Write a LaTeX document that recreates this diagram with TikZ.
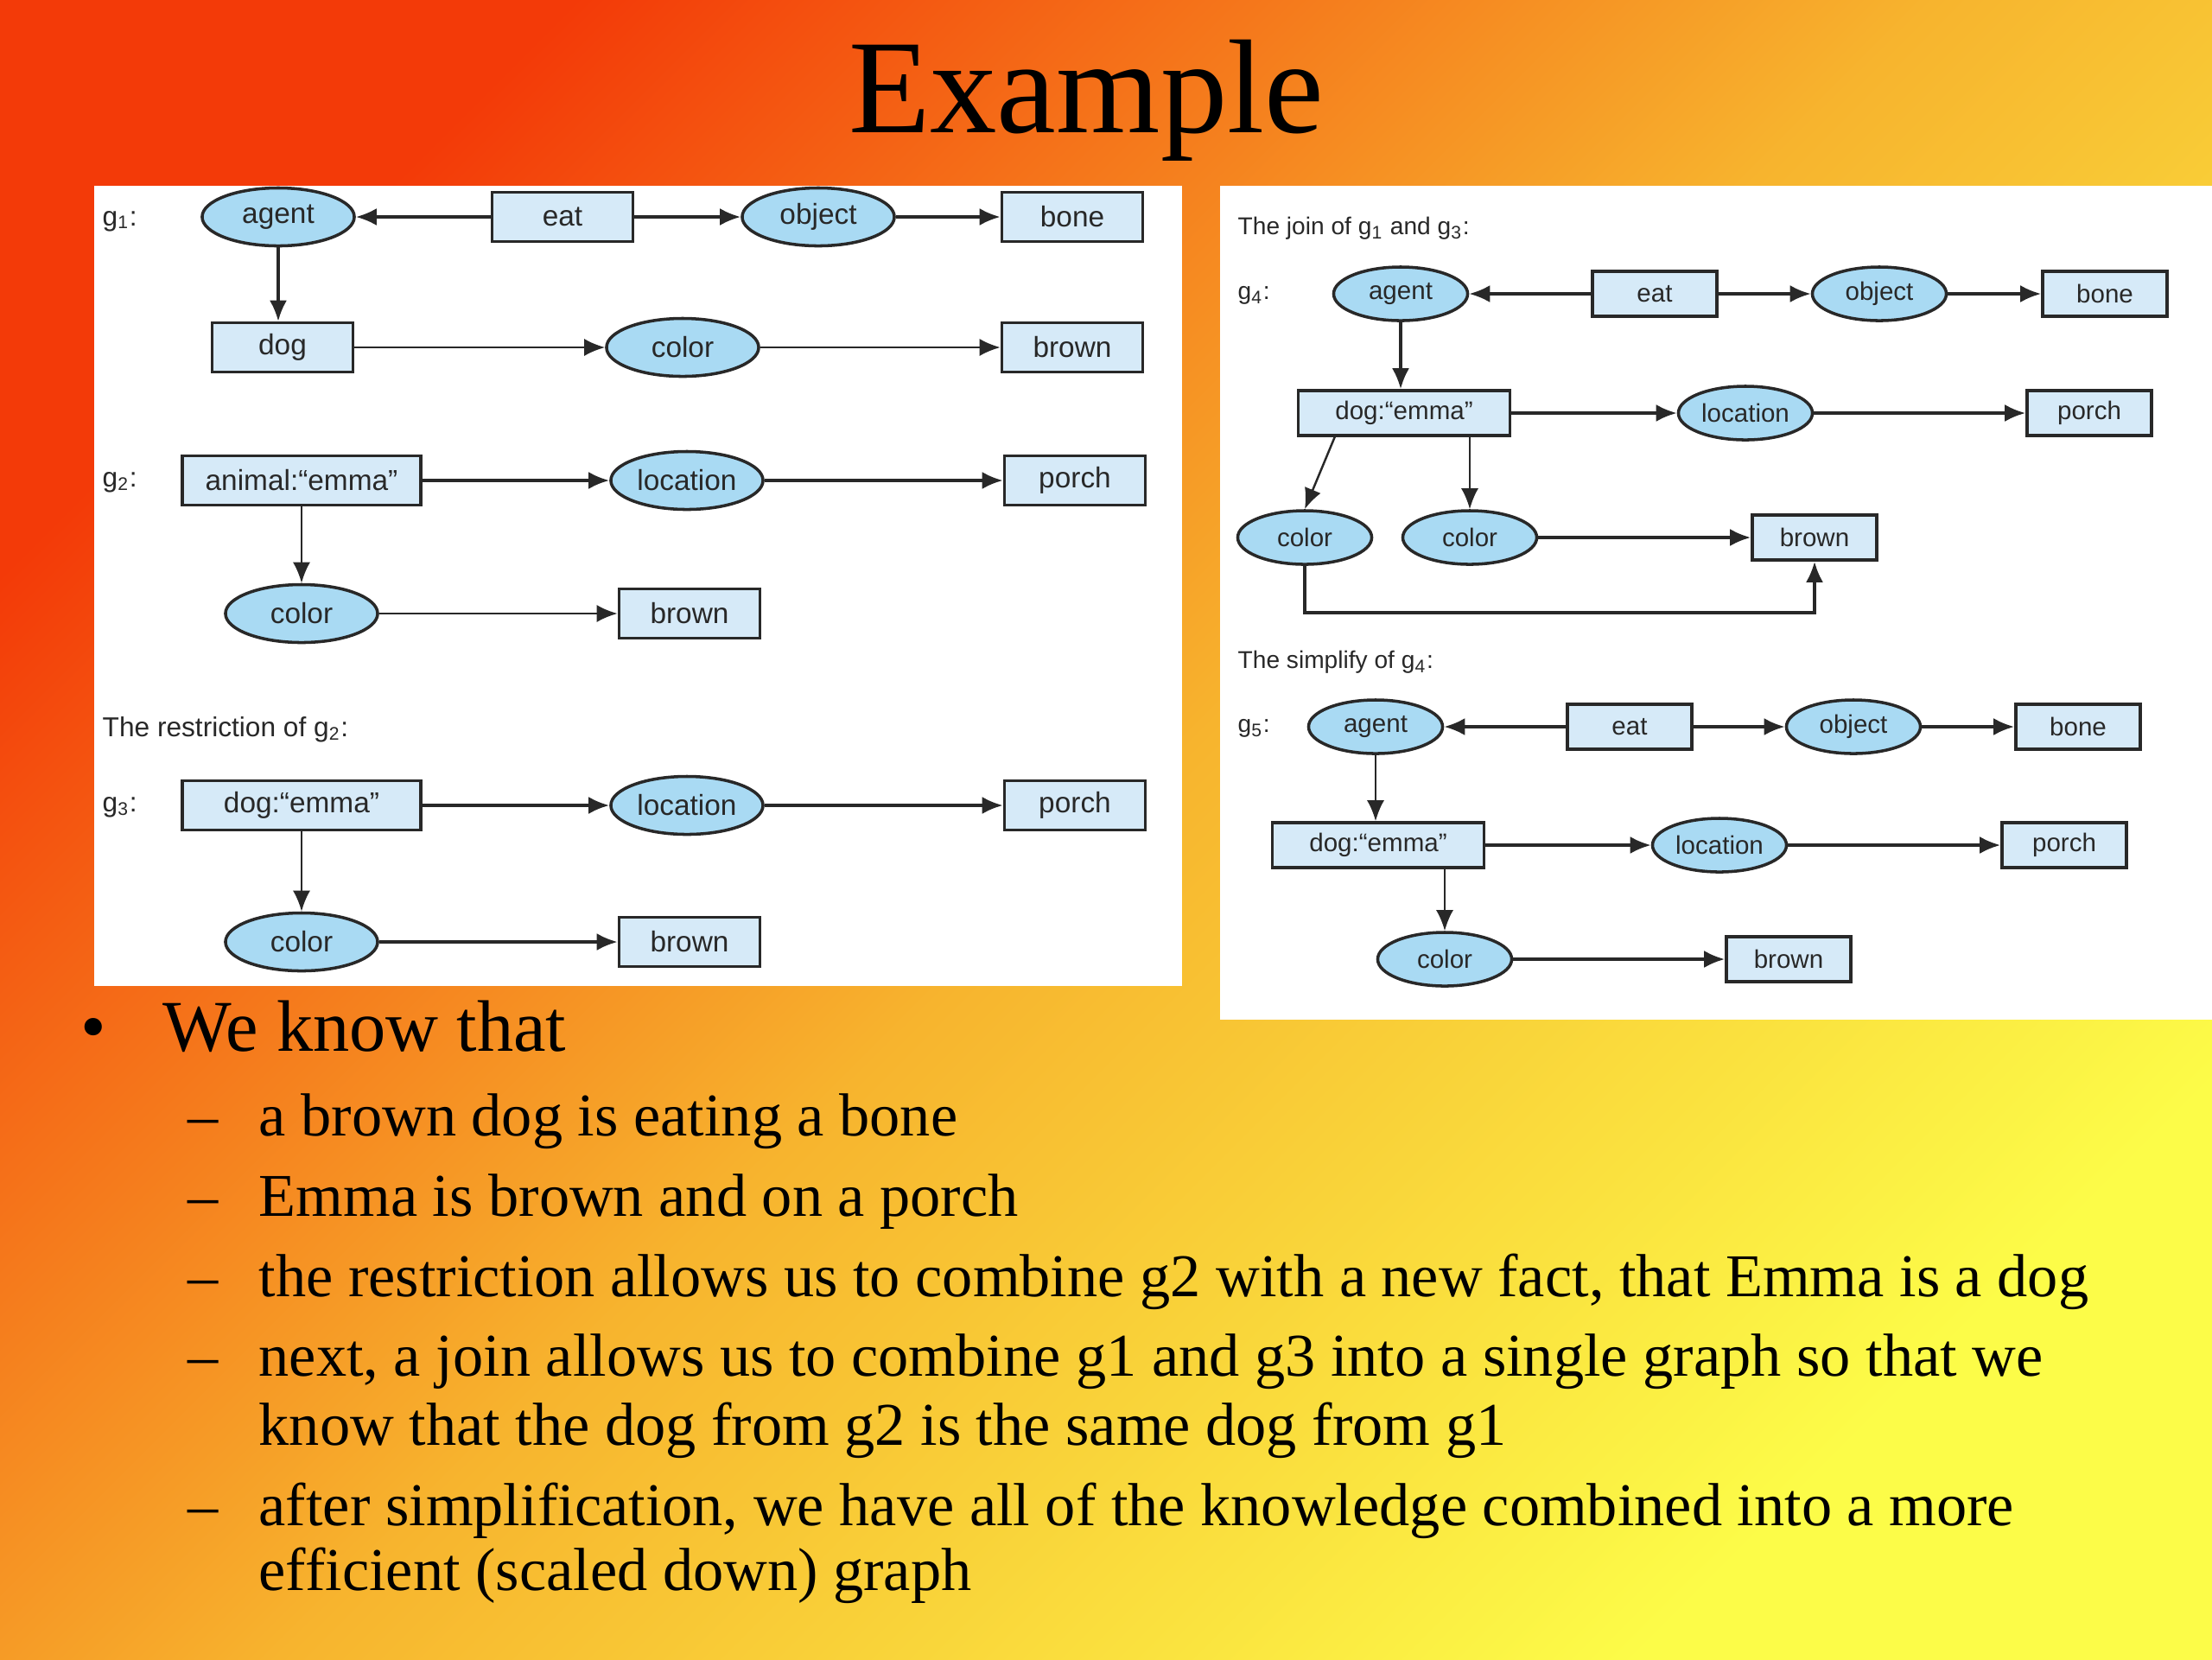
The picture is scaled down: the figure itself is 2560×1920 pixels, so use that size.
\documentclass[tikz,border=0pt]{standalone}
\usepackage{fontspec}
\setmainfont{Liberation Serif}
\setsansfont{Liberation Sans}
\usepackage{xcolor}
\definecolor{bgred}{RGB}{243,58,8}
\definecolor{bgmid}{RGB}{247,180,46}
\definecolor{bgyellow}{RGB}{252,252,72}
\definecolor{ovalfill}{RGB}{169,218,243}
\definecolor{boxfill}{RGB}{214,234,248}
\definecolor{inkgray}{RGB}{40,40,40}
\usepackage{tikz}
\usetikzlibrary{arrows.meta,shapes.geometric}

\begin{document}
\begin{tikzpicture}[x=0.01cm,y=-0.01cm,
concept/.style={draw=inkgray,line width=1pt,fill=boxfill,minimum width=1.63cm,minimum height=0.57cm,inner sep=0pt,text=inkgray,font=\sffamily\fontsize{9.5}{10}\selectfont},
relation/.style={ellipse,draw=inkgray,line width=1pt,fill=ovalfill,minimum width=1.76cm,minimum height=0.67cm,inner sep=0pt,text=inkgray,font=\sffamily\fontsize{9.5}{10}\selectfont},
wide/.style={minimum width=2.76cm},
glabel/.style={anchor=west,inner sep=0pt,text=inkgray,font=\sffamily\fontsize{9}{10}\selectfont},
link/.style={-{Latex[length=2.4mm,width=2mm]},line width=1pt,draw=inkgray},
thin link/.style={link,line width=0.7pt},
listline/.style={anchor=base west,inner sep=0pt,font=\fontsize{20}{24}\selectfont}]
\useasboundingbox (0,0) rectangle (2560,1920);
\shade[top color=bgred,bottom color=bgyellow,middle color=bgmid,shading angle=45] (0,0) rectangle (2560,1920);
\node[font=\fontsize{44}{50}\selectfont,anchor=base,inner sep=0pt] (title) at (1257,153) {Example};
\fill[white] (109,215) rectangle (1368,1141);
\fill[white] (1412,215) rectangle (2560,1180);
% g1
\node[glabel] (g1lab) at (118,256) {g\textsubscript{1}:};
\node[relation] (agentA) at (322,251) {agent};
\node[concept] (eatA) at (651,251) {eat};
\node[relation] (objectA) at (947,251) {object};
\node[concept] (boneA) at (1241,251) {bone};
\node[concept] (dogA) at (327,402) {dog};
\node[relation] (colorA) at (790,402) {color};
\node[concept] (brownA) at (1241,402) {brown};
\draw[link] (eatA) -- (agentA);
\draw[link] (eatA) -- (objectA);
\draw[link] (objectA) -- (boneA);
\draw[link] (agentA) -- (agentA |- dogA.north);
\draw[thin link] (dogA) -- (colorA);
\draw[thin link] (colorA) -- (brownA);
% g2
\node[glabel] (g2lab) at (118,558) {g\textsubscript{2}:};
\node[concept,wide] (animalB) at (349,556) {animal:“emma”};
\node[relation] (locationB) at (795,556) {location};
\node[concept] (porchB) at (1244,556) {porch};
\node[relation] (colorB) at (349,710) {color};
\node[concept] (brownB) at (798,710) {brown};
\draw[link] (animalB) -- (locationB);
\draw[link] (locationB) -- (porchB);
\draw[thin link] (animalB) -- (colorB);
\draw[thin link] (colorB) -- (brownB);
% restriction
\node[glabel] (restrlab) at (118,844) {The restriction of g\textsubscript{2}:};
\node[glabel] (g3lab) at (118,934) {g\textsubscript{3}:};
\node[concept,wide] (dogC) at (349,932) {dog:“emma”};
\node[relation] (locationC) at (795,932) {location};
\node[concept] (porchC) at (1244,932) {porch};
\node[relation] (colorC) at (349,1090) {color};
\node[concept] (brownC) at (798,1090) {brown};
\draw[link] (dogC) -- (locationC);
\draw[link] (locationC) -- (porchC);
\draw[thin link] (dogC) -- (colorC);
\draw[link] (colorC) -- (brownC);
\begin{scope}[concept/.append style={minimum width=1.44cm,minimum height=0.52cm,font=\sffamily\fontsize{8.4}{9}\selectfont},
relation/.append style={minimum width=1.55cm,minimum height=0.62cm,font=\sffamily\fontsize{8.4}{9}\selectfont},
wide/.style={minimum width=2.45cm},
glabel/.append style={font=\sffamily\fontsize{8}{9}\selectfont}]
% join
\node[glabel] (joinlab) at (1432,264) {The join of g\textsubscript{1} and g\textsubscript{3}:};
\node[glabel] (g4lab) at (1432,342) {g\textsubscript{4}:};
\node[relation] (agentD) at (1621,340) {agent};
\node[concept] (eatD) at (1915,340) {eat};
\node[relation] (objectD) at (2175,340) {object};
\node[concept] (boneD) at (2436,340) {bone};
\node[concept,wide] (dogD) at (1625,478) {dog:“emma”};
\node[relation] (locationD) at (2020,478) {location};
\node[concept] (porchD) at (2418,478) {porch};
\node[relation] (colorDa) at (1510,622) {color};
\node[relation] (colorDb) at (1701,622) {color};
\node[concept] (brownD) at (2100,622) {brown};
\coordinate (joinbend) at (0,709);
\draw[link] (eatD) -- (agentD);
\draw[link] (eatD) -- (objectD);
\draw[link] (objectD) -- (boneD);
\draw[link] (agentD) -- (agentD |- dogD.north);
\draw[link] (dogD) -- (locationD);
\draw[link] (locationD) -- (porchD);
\draw[thin link] ([xshift=0.44cm]dogD.south west) -- (colorDa.north);
\draw[thin link] (colorDb.north |- dogD.south) -- (colorDb);
\draw[link] (colorDb) -- (brownD);
\draw[link] (colorDa.south) -- (colorDa.south |- joinbend) -| (brownD.south);
% simplify
\node[glabel] (simplab) at (1432,766) {The simplify of g\textsubscript{4}:};
\node[glabel] (g5lab) at (1432,843) {g\textsubscript{5}:};
\node[relation] (agentE) at (1592,841) {agent};
\node[concept] (eatE) at (1886,841) {eat};
\node[relation] (objectE) at (2145,841) {object};
\node[concept] (boneE) at (2405,841) {bone};
\node[concept,wide] (dogE) at (1595,978) {dog:“emma”};
\node[relation] (locationE) at (1990,978) {location};
\node[concept] (porchE) at (2389,978) {porch};
\node[relation] (colorE) at (1672,1110) {color};
\node[concept] (brownE) at (2070,1110) {brown};
\draw[link] (eatE) -- (agentE);
\draw[link] (eatE) -- (objectE);
\draw[link] (objectE) -- (boneE);
\draw[thin link] (agentE) -- (agentE |- dogE.north);
\draw[link] (dogE) -- (locationE);
\draw[link] (locationE) -- (porchE);
\draw[thin link] (colorE.north |- dogE.south) -- (colorE);
\draw[link] (colorE) -- (brownE);
\end{scope}
% text below
\node[anchor=base west,inner sep=0pt,font=\fontsize{24}{28}\selectfont] (bulA) at (93,1216) {\textbullet};
\node[anchor=base west,inner sep=0pt,font=\fontsize{24}{28}\selectfont] (knowA) at (188,1216) {We know that};
\foreach \y in {1314,1407,1500,1592,1765} {\node[listline] (dash\y) at (217,\y) {--};}
\node[listline] (factA) at (299,1314) {a brown dog is eating a bone};
\node[listline] (factB) at (299,1407) {Emma is brown and on a porch};
\node[listline] (factC) at (299,1500) {the restriction allows us to combine g2 with a new fact, that Emma is a dog};
\node[listline] (factD) at (299,1592) {next, a join allows us to combine g1 and g3 into a single graph so that we};
\node[listline] (factDb) at (299,1672) {know that the dog from g2 is the same dog from g1};
\node[listline] (factE) at (299,1765) {after simplification, we have all of the knowledge combined into a more};
\node[listline] (factEb) at (299,1840) {efficient (scaled down) graph};
\end{tikzpicture}
\end{document}
